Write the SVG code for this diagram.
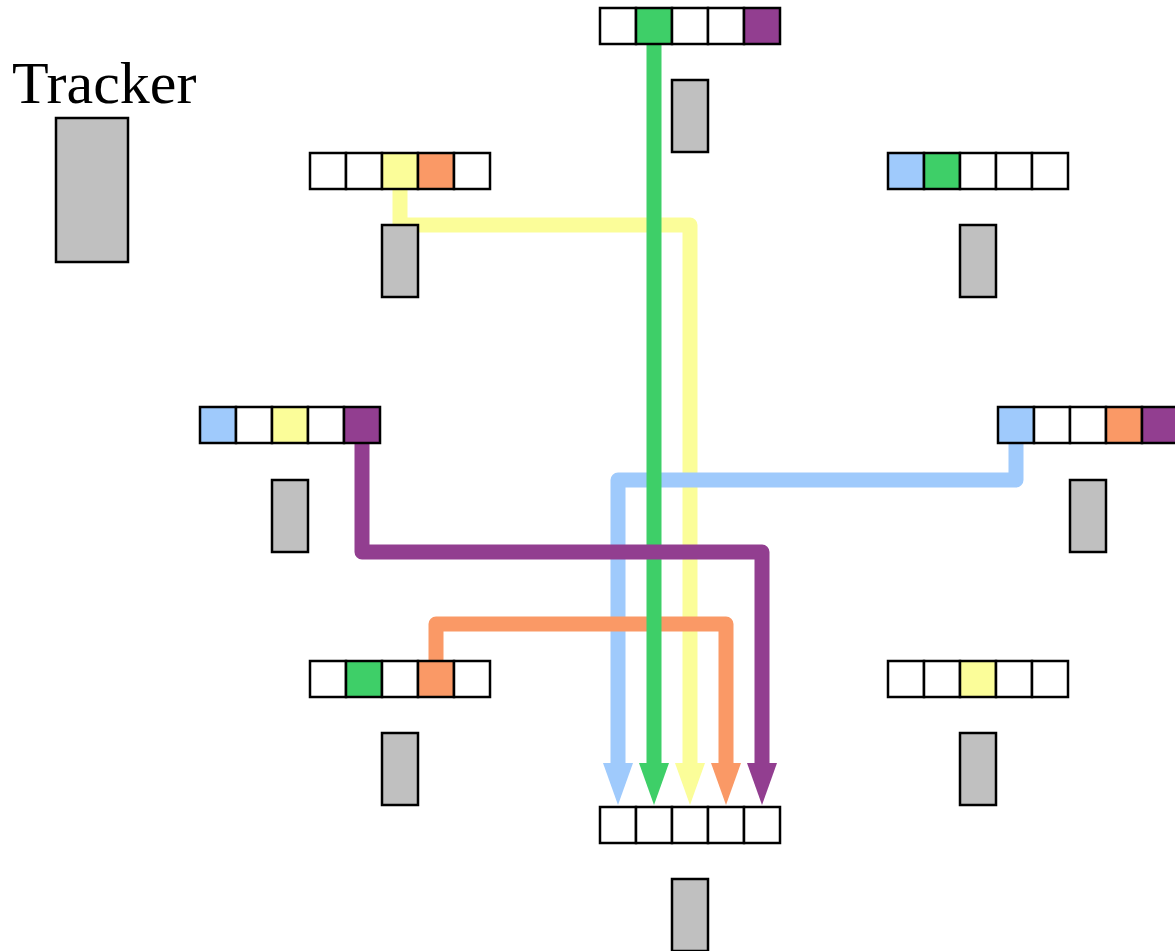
<svg xmlns="http://www.w3.org/2000/svg" width="1175" height="951" viewBox="0 0 1175 951">
<style>
.c{stroke:#000;stroke-width:2.5;fill:#fff}
.g{fill:#3ecf68}.y{fill:#fbfd99}.o{fill:#fa9966}.p{fill:#923e90}.b{fill:#9fcafc}
.t{fill:#c0c0c0;stroke:#000;stroke-width:2.5}
.ln{fill:none;stroke-width:15;stroke-linejoin:round}
.lbl{font-family:"Liberation Serif","Times New Roman",serif;font-size:60px;fill:#000}
</style>
<defs>
<marker id="ag" markerUnits="userSpaceOnUse" markerWidth="44" markerHeight="30" refX="2" refY="15" orient="auto"><path d="M0,0 L42,15 L0,30 z" fill="#3ecf68"/></marker>
<marker id="ay" markerUnits="userSpaceOnUse" markerWidth="44" markerHeight="30" refX="2" refY="15" orient="auto"><path d="M0,0 L42,15 L0,30 z" fill="#fbfd99"/></marker>
<marker id="ao" markerUnits="userSpaceOnUse" markerWidth="44" markerHeight="30" refX="2" refY="15" orient="auto"><path d="M0,0 L42,15 L0,30 z" fill="#fa9966"/></marker>
<marker id="ap" markerUnits="userSpaceOnUse" markerWidth="44" markerHeight="30" refX="2" refY="15" orient="auto"><path d="M0,0 L42,15 L0,30 z" fill="#923e90"/></marker>
<marker id="ab" markerUnits="userSpaceOnUse" markerWidth="44" markerHeight="30" refX="2" refY="15" orient="auto"><path d="M0,0 L42,15 L0,30 z" fill="#9fcafc"/></marker>
</defs>
<rect width="1175" height="951" fill="#fff"/>

<g id="connectors">
<path class="ln" stroke="#fbfd99" d="M400,189 V225 H690 V765" marker-end="url(#ay)"/>
<path class="ln" stroke="#9fcafc" d="M1016,443 V480 H618 V765" marker-end="url(#ab)"/>
<path class="ln" stroke="#fa9966" d="M436,661 V624 H726 V765" marker-end="url(#ao)"/>
<path class="ln" stroke="#3ecf68" stroke-width="16" d="M654,44 V765" marker-end="url(#ag)"/>
<path class="ln" stroke="#923e90" d="M362,443 V552 H762 V765" marker-end="url(#ap)"/>
</g>

<g id="tracker">
<text class="lbl" x="12" y="103">Tracker</text>
<rect class="t" x="56" y="118" width="72" height="144"/>
</g>

<g id="node-top">
<rect class="c" x="600" y="8" width="36" height="36"/>
<rect class="c g" x="636" y="8" width="36" height="36"/>
<rect class="c" x="672" y="8" width="36" height="36"/>
<rect class="c" x="708" y="8" width="36" height="36"/>
<rect class="c p" x="744" y="8" width="36" height="36"/>
<rect class="t" x="672" y="80" width="36" height="72"/>
</g>

<g id="node-top-left">
<rect class="c" x="310" y="153" width="36" height="36"/>
<rect class="c" x="346" y="153" width="36" height="36"/>
<rect class="c y" x="382" y="153" width="36" height="36"/>
<rect class="c o" x="418" y="153" width="36" height="36"/>
<rect class="c" x="454" y="153" width="36" height="36"/>
<rect class="t" x="382" y="225" width="36" height="72"/>
</g>

<g id="node-top-right">
<rect class="c b" x="888" y="153" width="36" height="36"/>
<rect class="c g" x="924" y="153" width="36" height="36"/>
<rect class="c" x="960" y="153" width="36" height="36"/>
<rect class="c" x="996" y="153" width="36" height="36"/>
<rect class="c" x="1032" y="153" width="36" height="36"/>
<rect class="t" x="960" y="225" width="36" height="72"/>
</g>

<g id="node-mid-left">
<rect class="c b" x="200" y="407" width="36" height="36"/>
<rect class="c" x="236" y="407" width="36" height="36"/>
<rect class="c y" x="272" y="407" width="36" height="36"/>
<rect class="c" x="308" y="407" width="36" height="36"/>
<rect class="c p" x="344" y="407" width="36" height="36"/>
<rect class="t" x="272" y="480" width="36" height="72"/>
</g>

<g id="node-mid-right">
<rect class="c b" x="998" y="407" width="36" height="36"/>
<rect class="c" x="1034" y="407" width="36" height="36"/>
<rect class="c" x="1070" y="407" width="36" height="36"/>
<rect class="c o" x="1106" y="407" width="36" height="36"/>
<rect class="c p" x="1142" y="407" width="36" height="36"/>
<rect class="t" x="1070" y="480" width="36" height="72"/>
</g>

<g id="node-bottom-left">
<rect class="c" x="310" y="661" width="36" height="36"/>
<rect class="c g" x="346" y="661" width="36" height="36"/>
<rect class="c" x="382" y="661" width="36" height="36"/>
<rect class="c o" x="418" y="661" width="36" height="36"/>
<rect class="c" x="454" y="661" width="36" height="36"/>
<rect class="t" x="382" y="733" width="36" height="72"/>
</g>

<g id="node-bottom-right">
<rect class="c" x="888" y="661" width="36" height="36"/>
<rect class="c" x="924" y="661" width="36" height="36"/>
<rect class="c y" x="960" y="661" width="36" height="36"/>
<rect class="c" x="996" y="661" width="36" height="36"/>
<rect class="c" x="1032" y="661" width="36" height="36"/>
<rect class="t" x="960" y="733" width="36" height="72"/>
</g>

<g id="node-bottom">
<rect class="c" x="600" y="807" width="36" height="36"/>
<rect class="c" x="636" y="807" width="36" height="36"/>
<rect class="c" x="672" y="807" width="36" height="36"/>
<rect class="c" x="708" y="807" width="36" height="36"/>
<rect class="c" x="744" y="807" width="36" height="36"/>
<rect class="t" x="672" y="879" width="36" height="72"/>
</g>
</svg>
